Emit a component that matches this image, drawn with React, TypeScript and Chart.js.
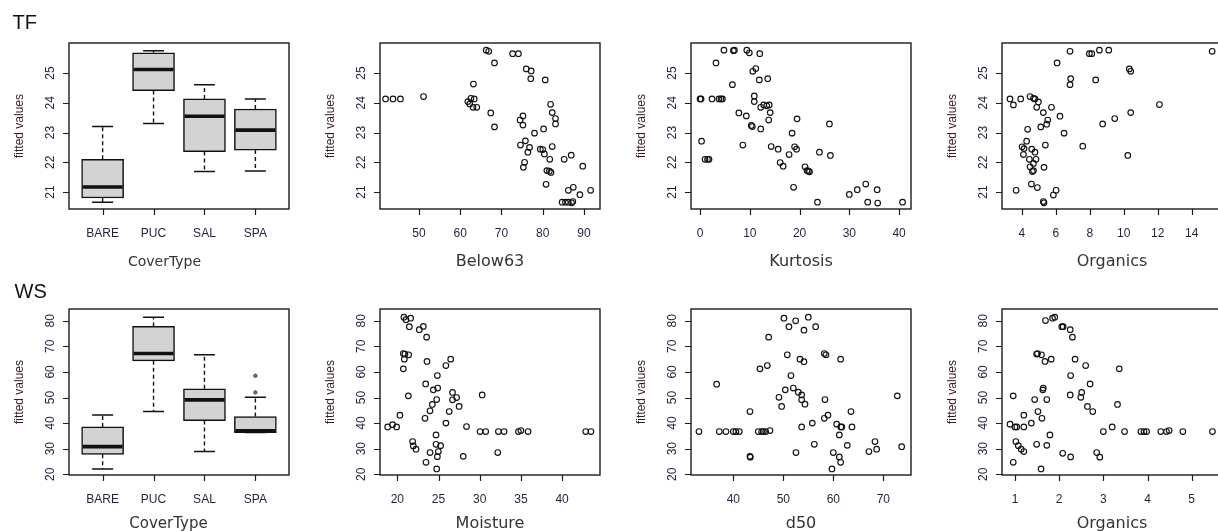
import React, { useEffect, useRef } from 'react';
import { Chart, registerables } from 'chart.js';

Chart.register(...registerables);

// ---------- categories & tick labels ----------
const coverTypes = ['BARE', 'PUC', 'SAL', 'SPA'];
const coverPositions = [1, 2, 3, 4];

const tfYTicks = [21, 22, 23, 24, 25];
const wsYTicks = [20, 30, 40, 50, 60, 70, 80];
const below63Ticks = [50, 60, 70, 80, 90];
const kurtosisTicks = [0, 10, 20, 30, 40];
const tfOrganicsTicks = [4, 6, 8, 10, 12, 14];
const moistureTicks = [20, 25, 30, 35, 40];
const d50Ticks = [40, 50, 60, 70];
const wsOrganicsTicks = [1, 2, 3, 4, 5];

// ---------- TF boxplot (fitted values by CoverType) ----------
const tfBoxQ1 = [20.8, 24.41, 22.36, 22.41];
const tfBoxMedian = [21.17, 25.12, 23.55, 23.08];
const tfBoxQ3 = [22.1, 25.68, 24.13, 23.79];
const tfWhiskerLow = [20.66, 23.3, 21.69, 21.71];
const tfWhiskerHigh = [23.2, 25.75, 24.61, 24.13];

// ---------- WS boxplot ----------
const wsBoxQ1 = [27.8, 64.35, 41.0, 36.3];
const wsBoxMedian = [30.8, 67.2, 49.1, 37.0];
const wsBoxQ3 = [38.5, 77.8, 53.4, 42.6];
const wsWhiskerLow = [22.1, 44.5, 28.9, 36.3];
const wsWhiskerHigh = [43.2, 81.4, 66.7, 50.1];
const wsOutlierX = [4, 4];
const wsOutlierY = [52.0, 58.5];

// ---------- TF: Below63 ----------
const tfBelow63X = [41.9, 43.7, 45.5, 51.1, 63.2, 61.85, 62.3, 62.6, 63.4, 63.1, 64.0, 66.3, 66.9, 68.3, 67.4, 68.3, 72.7, 74.1, 76.0, 77.2, 77.1, 80.6, 74.5, 75.2, 75.2, 78.0, 80.2, 81.9, 82.3, 83.1, 83.1, 74.6, 75.8, 76.8, 76.4, 75.6, 75.3, 79.4, 80.0, 80.4, 81.7, 82.3, 81.0, 81.6, 82.0, 80.8, 85.2, 86.9, 89.7, 86.2, 87.4, 89.0, 91.6, 84.7, 85.5, 86.2, 87.0, 87.3];
const tfBelow63Y = [24.13, 24.13, 24.13, 24.21, 24.63, 24.04, 23.96, 24.15, 24.13, 23.85, 23.85, 25.77, 25.73, 25.34, 23.66, 23.19, 25.65, 25.65, 25.14, 25.07, 24.81, 24.77, 23.42, 23.56, 23.25, 22.98, 23.12, 23.95, 23.67, 23.47, 23.29, 22.58, 22.72, 22.5, 22.34, 22.0, 21.83, 22.44, 22.43, 22.28, 22.1, 22.53, 21.72, 21.7, 21.66, 21.26, 22.1, 22.24, 21.87, 21.06, 21.16, 20.91, 21.06, 20.66, 20.66, 20.66, 20.64, 20.68];

// ---------- TF: Kurtosis ----------
const tfKurtosisX = [0, 0.2, 0.3, 1.0, 1.5, 1.8, 2.4, 3.8, 4.2, 4.5, 3.2, 4.8, 6.5, 6.7, 6.9, 7.8, 9.3, 8.6, 9.4, 9.9, 12.0, 10.6, 11.2, 11.9, 13.6, 10.9, 10.9, 10.3, 10.5, 12.2, 12.2, 12.8, 13.4, 13.9, 14.1, 13.8, 14.3, 15.7, 16.1, 16.7, 18.5, 19.5, 19.0, 19.4, 17.9, 18.8, 21.1, 21.5, 21.8, 22.0, 23.6, 24.0, 26.0, 26.2, 30.0, 31.6, 33.3, 35.6, 33.7, 35.7, 40.7];
const tfKurtosisY = [24.13, 24.13, 22.71, 22.1, 22.1, 22.1, 24.13, 24.13, 24.13, 24.13, 25.34, 25.77, 24.61, 25.75, 25.77, 23.66, 23.56, 22.58, 25.77, 25.68, 25.65, 25.06, 25.15, 24.77, 24.81, 24.23, 24.04, 23.24, 23.2, 23.12, 23.85, 23.93, 23.9, 23.93, 23.67, 23.42, 22.53, 22.44, 21.99, 21.87, 22.98, 23.46, 22.52, 22.44, 22.26, 21.16, 21.85, 21.72, 21.7, 21.68, 20.66, 22.34, 23.29, 22.23, 20.92, 21.08, 21.27, 21.08, 20.66, 20.63, 20.66];

// ---------- TF: Organics ----------
const tfOrganicsX = [3.31, 3.51, 3.94, 3.67, 4.49, 4.69, 4.78, 4.98, 4.88, 4.35, 4.29, 4.02, 4.14, 4.1, 4.59, 4.78, 4.45, 4.84, 4.69, 4.49, 4.63, 4.69, 4.57, 4.92, 5.27, 5.53, 5.47, 5.12, 5.75, 5.39, 5.31, 5.27, 5.31, 5.86, 6.02, 6.25, 6.49, 6.08, 6.84, 6.88, 6.84, 7.59, 7.98, 8.12, 8.35, 8.57, 9.12, 8.76, 9.47, 10.33, 10.41, 10.41, 10.24, 12.1, 15.2];
const tfOrganicsY = [24.13, 23.93, 24.13, 21.06, 24.21, 24.15, 24.13, 24.03, 23.85, 23.11, 22.71, 22.52, 22.46, 22.26, 22.44, 22.34, 22.1, 22.1, 21.96, 21.85, 21.69, 21.72, 21.27, 21.15, 23.67, 23.42, 23.28, 23.19, 23.85, 22.58, 21.83, 20.68, 20.64, 20.9, 21.06, 23.55, 22.98, 25.34, 25.73, 24.81, 24.61, 22.54, 25.65, 25.65, 24.77, 25.77, 25.77, 23.29, 23.47, 25.14, 25.06, 23.67, 22.23, 23.94, 25.73];

// ---------- WS: Moisture ----------
const wsMoistureX = [18.83, 19.43, 19.92, 20.32, 20.73, 20.73, 20.93, 20.85, 21.38, 20.8, 21.05, 21.62, 21.46, 21.34, 21.86, 21.94, 22.27, 22.67, 23.16, 23.56, 23.6, 23.44, 23.36, 23.48, 23.97, 24.25, 24.37, 24.9, 24.86, 24.78, 24.7, 23.97, 24.7, 25.26, 24.98, 24.86, 24.78, 25.9, 26.48, 25.9, 26.3, 26.7, 26.7, 27.2, 27.5, 28.4, 28.0, 30.04, 30.73, 30.3, 32.27, 32.96, 32.19, 34.7, 35.0, 35.87, 42.87, 43.5];
const wsMoistureY = [38.5, 39.4, 38.5, 43.1, 61.2, 67.2, 67.0, 65.0, 66.7, 81.4, 80.4, 81.0, 77.7, 50.65, 32.8, 31.1, 29.8, 76.5, 77.8, 73.6, 64.1, 55.3, 41.9, 24.7, 44.8, 47.3, 53.0, 53.7, 58.6, 49.2, 35.4, 28.5, 31.7, 31.2, 28.9, 26.9, 22.1, 62.5, 65.0, 40.0, 44.5, 52.0, 49.1, 50.0, 46.5, 38.65, 27.0, 36.7, 36.7, 51.0, 36.7, 36.7, 28.5, 36.7, 37.1, 36.7, 36.7, 36.7];

// ---------- WS: d50 ----------
const wsD50X = [33.13, 36.67, 37.2, 38.53, 40.0, 40.53, 41.2, 43.33, 43.33, 43.4, 45.0, 45.67, 46.0, 46.47, 47.33, 45.33, 46.8, 47.07, 49.13, 49.67, 50.13, 50.4, 50.8, 51.13, 51.53, 52.47, 52.0, 53.0, 53.67, 53.67, 54.33, 52.53, 53.33, 54.13, 54.13, 53.67, 55.0, 55.8, 56.2, 56.47, 58.2, 58.2, 58.53, 58.33, 58.93, 59.73, 60.0, 60.67, 61.2, 61.2, 61.47, 61.47, 61.5, 61.7, 62.8, 63.53, 63.73, 67.13, 68.33, 68.67, 72.8, 73.67];
const wsD50Y = [36.7, 55.2, 36.7, 36.7, 36.7, 36.7, 36.7, 44.5, 27.0, 26.7, 36.7, 36.7, 36.7, 36.7, 37.1, 61.2, 62.5, 73.6, 50.1, 46.5, 81.0, 53.0, 66.7, 77.7, 58.6, 80.0, 53.7, 52.1, 51.0, 49.1, 47.4, 28.5, 65.0, 64.0, 76.3, 38.5, 81.4, 40.0, 31.7, 77.7, 41.9, 67.2, 66.7, 49.2, 43.1, 22.1, 28.5, 39.6, 35.4, 26.8, 24.7, 65.0, 38.5, 38.5, 31.3, 44.5, 38.5, 28.9, 32.8, 29.8, 50.65, 30.8];

// ---------- WS: Organics ----------
const wsOrganicsX = [0.887, 0.96, 1.0, 1.04, 1.02, 0.96, 1.075, 1.14, 1.2, 1.2, 1.2, 1.37, 1.445, 1.49, 1.52, 1.49, 1.51, 1.6, 1.59, 1.61, 1.63, 1.64, 1.68, 1.72, 1.72, 1.69, 1.79, 1.82, 1.85, 1.9, 2.06, 2.09, 2.08, 2.25, 2.3, 2.26, 2.25, 2.26, 2.36, 2.51, 2.49, 2.6, 2.64, 2.7, 2.76, 2.85, 2.92, 3.0, 3.2, 3.32, 3.36, 3.48, 3.85, 3.92, 3.98, 4.3, 4.43, 4.49, 4.8, 5.47];
const wsOrganicsY = [39.6, 50.65, 38.5, 38.5, 32.8, 24.7, 31.2, 29.8, 28.9, 43.1, 38.5, 40.0, 49.2, 31.7, 44.5, 67.0, 67.2, 66.7, 22.1, 41.9, 53.0, 53.7, 64.1, 49.2, 31.3, 80.1, 35.4, 65.0, 81.0, 81.4, 77.7, 77.7, 28.2, 76.5, 73.6, 58.6, 51.0, 26.8, 65.0, 52.0, 50.1, 62.5, 46.5, 55.3, 44.5, 28.5, 26.7, 36.7, 38.5, 47.3, 61.2, 36.7, 36.7, 36.7, 36.7, 36.7, 36.7, 37.1, 36.7, 36.7];

// ---------- layout constants ----------
const PANEL_W = 311;
const TOP_ROW_H = 280;
const BOTTOM_ROW_TOP = 266;
const BOTTOM_ROW_H = 265;
const AREA = { left: 69, top: 43, right: 289, bottom: 209 };

type BoxStats = { q1: number[]; med: number[]; q3: number[]; lo: number[]; hi: number[]; outX?: number[]; outY?: number[] };

type PanelDef = {
  col: number;
  row: number;
  title: string;
  titleSize: number;
  titleShift: number;
  xMin: number; xMax: number; yMin: number; yMax: number;
  xTicks: number[]; xLabels: string[];
  yTicks: number[];
  box?: BoxStats;
  px?: number[]; py?: number[];
};

const tfY = { yMin: 20.43, yMax: 26.01, yTicks: tfYTicks };
const wsY = { yMin: 19.72, yMax: 84.6, yTicks: wsYTicks };

const panels: PanelDef[] = [
  { col: 0, row: 0, title: 'CoverType', titleSize: 14, titleShift: -14.5, xMin: 0.34, xMax: 4.66, xTicks: coverPositions, xLabels: coverTypes, ...tfY,
    box: { q1: tfBoxQ1, med: tfBoxMedian, q3: tfBoxQ3, lo: tfWhiskerLow, hi: tfWhiskerHigh } },
  { col: 1, row: 0, title: 'Below63', titleSize: 16, titleShift: 0, xMin: 40.55, xMax: 93.88, xTicks: below63Ticks, xLabels: below63Ticks.map(String), ...tfY, px: tfBelow63X, py: tfBelow63Y },
  { col: 2, row: 0, title: 'Kurtosis', titleSize: 16, titleShift: 0, xMin: -1.82, xMax: 42.4, xTicks: kurtosisTicks, xLabels: kurtosisTicks.map(String), ...tfY, px: tfKurtosisX, py: tfKurtosisY },
  { col: 3, row: 0, title: 'Organics', titleSize: 16, titleShift: 0, xMin: 2.84, xMax: 15.78, xTicks: tfOrganicsTicks, xLabels: tfOrganicsTicks.map(String), ...tfY, px: tfOrganicsX, py: tfOrganicsY },
  { col: 0, row: 1, title: 'CoverType', titleSize: 15, titleShift: -10.5, xMin: 0.34, xMax: 4.66, xTicks: coverPositions, xLabels: coverTypes, ...wsY,
    box: { q1: wsBoxQ1, med: wsBoxMedian, q3: wsBoxQ3, lo: wsWhiskerLow, hi: wsWhiskerHigh, outX: wsOutlierX, outY: wsOutlierY } },
  { col: 1, row: 1, title: 'Moisture', titleSize: 16, titleShift: 0, xMin: 17.9, xMax: 44.6, xTicks: moistureTicks, xLabels: moistureTicks.map(String), ...wsY, px: wsMoistureX, py: wsMoistureY },
  { col: 2, row: 1, title: 'd50', titleSize: 16, titleShift: 0, xMin: 31.54, xMax: 75.54, xTicks: d50Ticks, xLabels: d50Ticks.map(String), ...wsY, px: wsD50X, py: wsD50Y },
  { col: 3, row: 1, title: 'Organics', titleSize: 16, titleShift: 0, xMin: 0.706, xMax: 5.686, xTicks: wsOrganicsTicks, xLabels: wsOrganicsTicks.map(String), ...wsY, px: wsOrganicsX, py: wsOrganicsY },
];

const TICK_FONT = '12px "Liberation Sans", Arial, sans-serif';
const TICK_COLOR = '#1f2140';

function rAxesPlugin(p: PanelDef, titleBaseline: number) {
  return {
    id: 'rAxes',
    afterDraw(chart: any) {
      const { ctx, chartArea: a } = chart;
      const xs = chart.scales.x;
      const ys = chart.scales.y;
      ctx.save();
      // box
      ctx.strokeStyle = '#1c1c1c';
      ctx.lineWidth = 1.4;
      ctx.setLineDash([]);
      ctx.strokeRect(a.left, a.top, a.right - a.left, a.bottom - a.top);
      // tick marks
      ctx.lineWidth = 1.2;
      ctx.beginPath();
      p.xTicks.forEach((v) => {
        const px = Math.round(xs.getPixelForValue(v)) + 0.5;
        ctx.moveTo(px, a.bottom);
        ctx.lineTo(px, a.bottom + 6);
      });
      p.yTicks.forEach((v) => {
        const py = Math.round(ys.getPixelForValue(v)) + 0.5;
        ctx.moveTo(a.left - 6, py);
        ctx.lineTo(a.left, py);
      });
      ctx.stroke();
      // tick labels
      ctx.fillStyle = TICK_COLOR;
      ctx.font = TICK_FONT;
      ctx.textAlign = 'center';
      ctx.textBaseline = 'alphabetic';
      p.xTicks.forEach((v, i) => {
        ctx.fillText(p.xLabels[i], xs.getPixelForValue(v), a.bottom + 28);
      });
      p.yTicks.forEach((v) => {
        ctx.save();
        ctx.translate(a.left - 15.5, ys.getPixelForValue(v));
        ctx.rotate(-Math.PI / 2);
        ctx.fillText(String(v), 0, 0);
        ctx.restore();
      });
      // y title
      ctx.fillStyle = '#35192a';
      ctx.save();
      ctx.translate(a.left - 46, (a.top + a.bottom) / 2);
      ctx.rotate(-Math.PI / 2);
      ctx.fillText('fitted values', 0, 0);
      ctx.restore();
      // x title
      ctx.fillStyle = '#333333';
      ctx.font = `${p.titleSize}px "DejaVu Sans", Verdana, sans-serif`;
      ctx.fillText(p.title, (a.left + a.right) / 2 + p.titleShift, a.bottom + titleBaseline);
      ctx.restore();
    },
  };
}

function boxWhiskerPlugin(p: PanelDef) {
  return {
    id: 'rBoxWhisker',
    afterDatasetsDraw(chart: any) {
      if (!p.box) return;
      const { ctx } = chart;
      const ys = chart.scales.y;
      const meta = chart.getDatasetMeta(0);
      const b = p.box;
      ctx.save();
      ctx.strokeStyle = '#111';
      meta.data.forEach((bar: any, i: number) => {
        const cx = bar.x;
        const half = bar.width / 2;
        const yQ1 = ys.getPixelForValue(b.q1[i]);
        const yQ3 = ys.getPixelForValue(b.q3[i]);
        const yLo = ys.getPixelForValue(b.lo[i]);
        const yHi = ys.getPixelForValue(b.hi[i]);
        const yMed = ys.getPixelForValue(b.med[i]);
        // whiskers (dashed)
        ctx.lineWidth = 1.4;
        ctx.setLineDash([4, 3]);
        ctx.beginPath();
        ctx.moveTo(cx, yQ3);
        ctx.lineTo(cx, yHi);
        ctx.moveTo(cx, yQ1);
        ctx.lineTo(cx, yLo);
        ctx.stroke();
        // caps
        ctx.setLineDash([]);
        ctx.lineWidth = 1.5;
        ctx.beginPath();
        ctx.moveTo(cx - half / 2, yHi);
        ctx.lineTo(cx + half / 2, yHi);
        ctx.moveTo(cx - half / 2, yLo);
        ctx.lineTo(cx + half / 2, yLo);
        ctx.stroke();
        // median
        ctx.lineWidth = 3.6;
        ctx.beginPath();
        ctx.moveTo(cx - half + 1, yMed);
        ctx.lineTo(cx + half - 1, yMed);
        ctx.stroke();
      });
      ctx.restore();
    },
  };
}

function buildConfig(p: PanelDef, height: number, titleBaseline: number): any {
  const datasets: any[] = [];
  if (p.box) {
    const b = p.box;
    datasets.push({
      type: 'bar',
      data: coverPositions.map((pos, i) => ({ x: pos, y: [b.q1[i], b.q3[i]] })),
      backgroundColor: '#d3d3d3',
      borderColor: '#111',
      borderWidth: 1.5,
      borderSkipped: false,
      barThickness: 42,
    });
    if (b.outX && b.outY) {
      datasets.push({
        type: 'scatter',
        data: b.outX.map((x, i) => ({ x, y: b.outY![i] })),
        pointRadius: 1.7,
        borderWidth: 1,
        borderColor: '#444',
        backgroundColor: '#777',
      });
    }
  } else if (p.px && p.py) {
    datasets.push({
      type: 'scatter',
      data: p.px.map((x, i) => ({ x, y: p.py![i] })),
      pointRadius: 2.8,
      borderWidth: 1.15,
      borderColor: '#111',
      backgroundColor: 'rgba(0,0,0,0)',
    });
  }
  return {
    type: 'scatter',
    data: { datasets },
    options: {
      animation: false,
      responsive: false,
      devicePixelRatio: 1,
      events: [],
      layout: { padding: { left: AREA.left, top: AREA.top, right: PANEL_W - AREA.right, bottom: height - AREA.bottom } },
      scales: {
        x: { type: 'linear', display: false, offset: false, min: p.xMin, max: p.xMax },
        y: { type: 'linear', display: false, offset: false, min: p.yMin, max: p.yMax },
      },
      plugins: { legend: { display: false }, tooltip: { enabled: false }, title: { display: false } },
    },
    plugins: [boxWhiskerPlugin(p), rAxesPlugin(p, titleBaseline)],
  };
}

function Panel({ p }: { p: PanelDef }) {
  const ref = useRef<HTMLCanvasElement>(null);
  const top = p.row === 0 ? 0 : BOTTOM_ROW_TOP;
  const height = p.row === 0 ? TOP_ROW_H : BOTTOM_ROW_H;
  const titleBaseline = p.row === 0 ? 57 : 53;
  useEffect(() => {
    if (!ref.current) return;
    const chart = new Chart(ref.current, buildConfig(p, height, titleBaseline));
    return () => chart.destroy();
  }, []);
  return (
    <canvas
      ref={ref}
      width={PANEL_W}
      height={height}
      style={{ position: 'absolute', left: p.col * PANEL_W, top, width: PANEL_W, height }}
    />
  );
}

const labelStyle: React.CSSProperties = {
  position: 'absolute',
  fontFamily: '"Liberation Sans", Arial, sans-serif',
  fontSize: 20,
  lineHeight: '20px',
  color: '#111',
  whiteSpace: 'nowrap',
};

export default function App() {
  return (
    <div style={{ position: 'fixed', left: 0, top: 0, width: 1218, height: 531, overflow: 'hidden', background: '#fff' }}>
      {panels.map((p, i) => (
        <Panel key={i} p={p} />
      ))}
      <div style={{ ...labelStyle, left: 12.5, top: 12.4 }}>TF</div>
      <div style={{ ...labelStyle, left: 14.5, top: 280.8 }}>WS</div>
    </div>
  );
}
